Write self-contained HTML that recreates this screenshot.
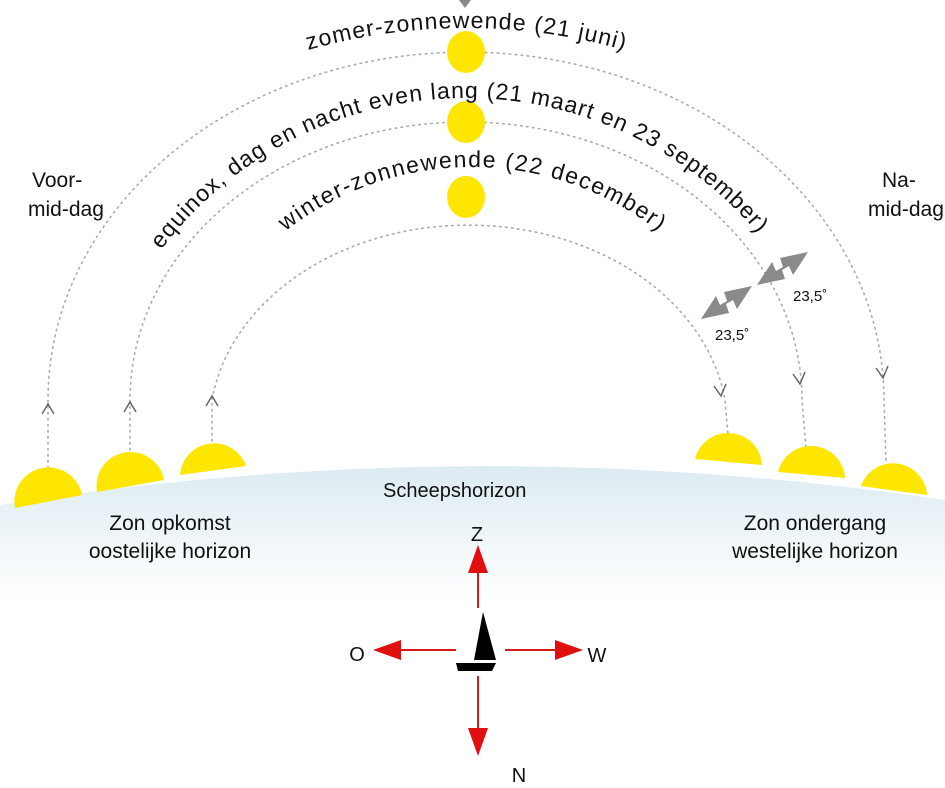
<!DOCTYPE html>
<html><head><meta charset="utf-8"><style>
html,body{margin:0;padding:0;background:#fff;}
svg{display:block;}
text{font-family:"Liberation Sans","DejaVu Sans",sans-serif;fill:#111;}
</style></head><body>
<svg width="945" height="788" viewBox="0 0 945 788" xmlns="http://www.w3.org/2000/svg">
<defs>
<linearGradient id="hz" x1="0" y1="0" x2="0" y2="1">
<stop offset="0" stop-color="#dcebf2"/>
<stop offset="0.5" stop-color="#eef5f8"/>
<stop offset="1" stop-color="#ffffff"/>
</linearGradient>
<path id="pEq" d="M84,480 A382,382 0 0 1 848,480"/>
<path id="pWi" d="M169,470 A303,303 0 0 1 775,470"/>
<path id="pZo" d="M-112,606 A578,578 0 0 1 1044,606"/>
</defs>
<path d="M0,505 Q470,430 945,500 L945,600 L0,600 Z" fill="url(#hz)"/>
<path d="M459,0 L471,0 L465,8 Z" fill="#888"/>
<g fill="none" stroke="#aaa" stroke-width="1.6" stroke-dasharray="1.5,4.5" stroke-linecap="round">
<path d="M48,480 L48,400 A418,348 0 0 1 884,400 L886,462"/>
<path d="M130,462 L130,400 A336,278 0 0 1 802,400 L806,448"/>
<path d="M212,447 L212,400 A259,203 0 0 1 725,400 L728,435"/>
</g>
<g fill="none" stroke="#666" stroke-width="1.5">
<path d="M42,414 L48,404 L54,414"/>
<path d="M124,412 L130,402 L136,412"/>
<path d="M206,406 L212,396 L218,406"/>
<path d="M714,386 L721,396 L726,384"/>
<path d="M793,374 L800,384 L805,372"/>
<path d="M876,368 L883,378 L888,366"/>
</g>
<g fill="#ffe600">
<ellipse cx="466" cy="52" rx="19" ry="21"/>
<ellipse cx="466" cy="122" rx="19" ry="21"/>
<ellipse cx="466" cy="197" rx="19" ry="21"/>
<path d="M15,508 A34,34 0 0 1 82,495 Z"/>
<path d="M97,492 A34,34 0 0 1 164,480 Z"/>
<path d="M180,475 A34,34 0 0 1 246,466 Z"/>
<path d="M695,459 A34,34 0 0 1 762,465 Z"/>
<path d="M778,472 A34,34 0 0 1 845,478 Z"/>
<path d="M861,486 A34,34 0 0 1 927,495 Z"/>
</g>
<g fill="#8a8a8a">
<path d="M701,319 L716,296 L720,305 L727,301 L724,292 L752,286 L737,309 L733,300 L726,304 L729,313 Z"/>
<path d="M757,285 L772,262 L776,271 L783,267 L780,258 L808,252 L793,275 L789,266 L782,270 L785,279 Z"/>
</g>
<text x="715" y="340" font-size="15">23,5˚</text>
<text x="793" y="301" font-size="15">23,5˚</text>
<text font-size="23"><textPath href="#pEq" startOffset="247" textLength="685" lengthAdjust="spacing">equinox, dag en nacht even lang (21 maart en 23 september)</textPath></text>
<text font-size="23"><textPath href="#pWi" startOffset="50%" text-anchor="middle" textLength="402" lengthAdjust="spacing">winter-zonnewende (22 december)</textPath></text>
<text font-size="23"><textPath href="#pZo" startOffset="50%" text-anchor="middle" textLength="320" lengthAdjust="spacing">zomer-zonnewende (21 juni)</textPath></text>
<g font-size="21">
<text x="32" y="187">Voor-</text>
<text x="28" y="216">mid-dag</text>
<text x="882" y="187">Na-</text>
<text x="868" y="216">mid-dag</text>
<text x="383" y="497" font-size="20">Scheepshorizon</text>
<text x="170" y="530" text-anchor="middle">Zon opkomst</text>
<text x="170" y="558" text-anchor="middle">oostelijke horizon</text>
<text x="815" y="530" text-anchor="middle">Zon ondergang</text>
<text x="815" y="558" text-anchor="middle">westelijke horizon</text>
</g>
<g stroke="#d51a1a" stroke-width="2">
<line x1="478" y1="570" x2="478" y2="608"/>
<line x1="398" y1="650" x2="456" y2="650"/>
<line x1="505" y1="650" x2="558" y2="650"/>
<line x1="478" y1="676" x2="478" y2="730"/>
</g>
<g fill="#e01010">
<path d="M478,545 L468,573 L488,573 Z"/>
<path d="M373,650 L401,640 L401,660 Z"/>
<path d="M583,650 L555,640 L555,660 Z"/>
<path d="M478,756 L468,728 L488,728 Z"/>
</g>
<path d="M483,612 L474,660 L496,660 Z" fill="#000"/>
<path d="M456,663 L496,663 L492,671 L458,671 Z" fill="#000"/>
<g font-size="20">
<text x="477" y="541" text-anchor="middle">Z</text>
<text x="357" y="661" text-anchor="middle">O</text>
<text x="597" y="662" text-anchor="middle">W</text>
<text x="519" y="782" text-anchor="middle">N</text>
</g>
</svg>
</body></html>
